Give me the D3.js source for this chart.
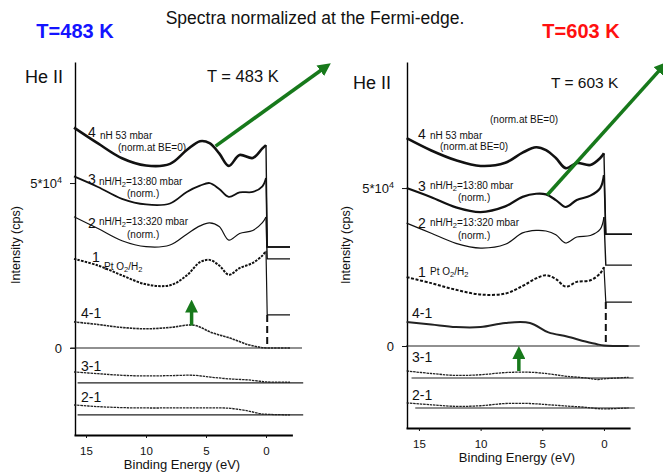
<!DOCTYPE html>
<html>
<head>
<meta charset="utf-8">
<script src="https://cdn.jsdelivr.net/npm/d3@7"></script>
<style>
  body { margin: 0; background: #fff; }
  svg text { font-family: Arial, "Liberation Sans", Helvetica, sans-serif; fill: #111; }
</style>
</head>
<body>
<svg id="chart" width="663" height="475"></svg>
<script>
// binding energy grids (eV)
const beMain = [16, 14, 12, 10, 8, 6.6, 5.5, 4.7, 3.9, 3.1, 2.2, 1.1, 0.3, 0];
const beDiff = [16, 14, 12, 10, 8, 6, 4.5, 3, 1.5, 0.5, 0, -2];
const beTail483 = [-0.1, -2.0];
const beTail603 = [-0.15, -2.27];
const xTicks = [15, 10, 5, 0];
const yTicks = [0, 5];

// T = 483 K spectra, intensity in units of 10^4 cps
const s483_4 = [6.68, 6.20, 5.75, 5.53, 5.58, 6.00, 6.27, 6.21, 5.90, 5.52, 5.85, 5.76, 6.05, 6.15];
const s483_3 = [5.20, 4.88, 4.52, 4.35, 4.38, 4.73, 4.92, 5.00, 4.82, 4.58, 4.72, 4.73, 4.90, 5.15];
const s483_2 = [3.98, 3.62, 3.25, 3.07, 3.12, 3.45, 3.70, 3.79, 3.68, 3.27, 3.47, 3.56, 3.80, 3.97];
const s483_1 = [2.70, 2.50, 2.20, 1.93, 1.90, 2.20, 2.60, 2.67, 2.50, 2.22, 2.42, 2.58, 2.80, 2.94];
const tail483 = [3.06, 3.06, 2.70, 1.00];
// difference spectra (relative to their own zero line)
const d483_41 = [0.79, 0.71, 0.62, 0.58, 0.62, 0.69, 0.46, 0.30, 0.10, 0.02, 0, 0];
const d483_31 = [0.33, 0.28, 0.23, 0.21, 0.22, 0.23, 0.17, 0.12, 0.09, 0.05, 0.03, 0.02];
const d483_21 = [0.30, 0.25, 0.22, 0.21, 0.21, 0.21, 0.21, 0.20, 0.12, 0.04, 0.02, 0];
const zero483 = [0, -1.06, -2.03];

// T = 603 K spectra
const s603_4 = [6.58, 6.19, 5.88, 5.70, 5.80, 6.12, 6.29, 6.20, 5.95, 5.63, 5.79, 5.73, 5.95, 6.10];
const s603_3 = [5.00, 4.71, 4.39, 4.24, 4.42, 4.72, 4.82, 4.80, 4.62, 4.40, 4.62, 4.76, 5.00, 5.41];
const s603_2 = [3.89, 3.57, 3.25, 3.10, 3.22, 3.58, 3.66, 3.64, 3.52, 3.26, 3.45, 3.50, 3.70, 4.08];
const s603_1 = [2.18, 1.99, 1.78, 1.63, 1.66, 1.90, 2.14, 2.24, 2.12, 1.88, 2.03, 2.08, 2.30, 2.50];
const tail603 = [3.54, 3.54, 2.56, 1.39];
const d603_41 = [0.76, 0.68, 0.60, 0.60, 0.73, 0.73, 0.43, 0.30, 0.14, 0.05, 0.02, 0];
const d603_31 = [0.22, 0.14, 0.08, 0.10, 0.17, 0.18, 0.13, 0.05, 0.00, -0.05, -0.03, 0.02];
const d603_21 = [0.16, 0.10, 0.05, 0.07, 0.14, 0.14, 0.10, 0.06, 0.02, -0.02, -0.03, 0];
const zero603 = [0, -1.01, -1.96];

const green = '#17791b';
const svg = d3.select('#chart');

// header
svg.append('text').attr('x', 315).attr('y', 24).attr('text-anchor', 'middle')
    .attr('font-size', 17.5).text('Spectra normalized at the Fermi-edge.');
svg.append('text').attr('x', 75).attr('y', 38).attr('text-anchor', 'middle')
    .attr('font-size', 20).attr('font-weight', 'bold').style('fill', '#1414ff').text('T=483 K');
svg.append('text').attr('x', 581).attr('y', 38).attr('text-anchor', 'middle')
    .attr('font-size', 20).attr('font-weight', 'bold').style('fill', '#ff1010').text('T=603 K');

// arrow head
svg.append('defs').append('marker')
    .attr('id', 'head').attr('markerUnits', 'userSpaceOnUse')
    .attr('viewBox', '0 0 10 10').attr('refX', 2).attr('refY', 5)
    .attr('markerWidth', 13).attr('markerHeight', 13).attr('orient', 'auto')
    .append('path').attr('d', 'M0,0L10,5L0,10Z').attr('fill', green);

// text with _n subscripts
function label(g, x, y, size, str) {
    const t = g.append('text').attr('x', x).attr('y', y).attr('font-size', size);
    str.split(/_(\d)/).forEach((part, i) => {
        if (!part) return;
        if (i % 2) {
            t.append('tspan').attr('baseline-shift', '-25%').attr('font-size', size * 0.75).text(part);
        } else {
            t.append('tspan').text(part);
        }
    });
}

function drawPanel(p) {
    const g = svg.append('g');
    const x = d3.scaleLinear().domain(p.xDom).range(p.xRange);
    const y = d3.scaleLinear().domain(p.yDom).range(p.yRange);

    // axes
    const xa = g.append('g').attr('transform', `translate(0,${p.yRange[0]})`)
        .call(d3.axisBottom(x).tickValues(xTicks).tickSize(3).tickSizeOuter(0).tickPadding(9));
    xa.select('.domain').attr('stroke-width', 1.8);
    xa.selectAll('.tick text').attr('font-size', 11.5);

    const ya = g.append('g').attr('transform', `translate(${p.xRange[0] + 1},0)`)
        .call(d3.axisLeft(y).tickValues(yTicks).tickSize(5).tickSizeOuter(0).tickPadding(8));
    ya.select('.domain').attr('stroke-width', 1.4);
    ya.selectAll('.tick text').attr('font-size', 13);
    ya.selectAll('.tick text').filter(d => d === 5).each(function () {
        const t = d3.select(this).text('5*10');
        t.append('tspan').attr('dy', '-0.5em').attr('font-size', 9).text('4');
    });
    g.selectAll('.tick line').attr('stroke', '#111');

    g.append('text').attr('transform', `translate(${p.yLabelX},245) rotate(-90)`)
        .attr('text-anchor', 'middle').attr('font-size', 12.5).text('Intensity (cps)');
    g.append('text').attr('x', p.xLabelX).attr('y', p.yRange[0] + 34)
        .attr('text-anchor', 'middle').attr('font-size', 13).text('Binding Energy (eV)');

    // zero lines for the difference spectra
    p.zeros.forEach((z, i) => {
        g.append('line')
            .attr('x1', x(p.zeroExt[i][0])).attr('x2', x(p.zeroExt[i][1]))
            .attr('y1', y(z)).attr('y2', y(z))
            .attr('stroke', '#222').attr('stroke-width', 1.1);
    });

    // normalized spectra
    const line = d3.line().x(d => x(d[0])).y(d => y(d[1])).curve(d3.curveCatmullRom.alpha(0.5));
    const lin = d3.line().x(d => x(d[0])).y(d => y(d[1]));
    p.spectra.forEach((s, i) => {
        const pts = beMain.map((b, j) => [b, s.v[j]]);
        g.append('path').attr('d', line(pts)).attr('fill', 'none')
            .attr('stroke', '#111').attr('stroke-width', s.w)
            .attr('stroke-dasharray', s.dash || null);
        const edge = [[0, s.v[s.v.length - 1]], [p.beTail[0], p.tails[i]], [p.beTail[1], p.tails[i]]];
        g.append('path').attr('d', lin(edge)).attr('fill', 'none')
            .attr('stroke', '#111').attr('stroke-width', i === 3 ? 1.2 : 1.4);
    });

    // Fermi level marker
    g.append('line')
        .attr('x1', x(p.beTail[0])).attr('x2', x(p.beTail[0]))
        .attr('y1', y(p.tails[3])).attr('y2', y(0))
        .attr('stroke', '#111').attr('stroke-width', 2).attr('stroke-dasharray', '7,4');

    // difference spectra
    p.diffs.forEach((s, i) => {
        const pts = beDiff.map((b, j) => [b, p.zeros[i] + s.v[j]]);
        g.append('path').attr('d', line(pts)).attr('fill', 'none')
            .attr('stroke', '#222').attr('stroke-width', s.w)
            .attr('stroke-dasharray', s.dash || null);
    });

    // labels
    p.labels.forEach(l => label(g, l[0], l[1], l[2], l[3]));

    // green arrows
    p.arrows.forEach(a => {
        g.append('line')
            .attr('x1', x(a[0])).attr('y1', y(a[1]))
            .attr('x2', x(a[2])).attr('y2', y(a[3]))
            .attr('stroke', green).attr('stroke-width', a[4])
            .attr('marker-end', 'url(#head)');
    });
}

drawPanel({
    xDom: [16, -2.2], xRange: [74, 292.4],
    yDom: [-2.64, 8.67], yRange: [435, 62],
    yLabelX: 20, xLabelX: 182,
    beTail: beTail483, tails: tail483, zeros: zero483,
    zeroExt: [[16.3, -3], [15.7, -3.1], [15.7, -3.1]],
    spectra: [
        { v: s483_4, w: 2.6 },
        { v: s483_3, w: 1.8 },
        { v: s483_2, w: 1.2 },
        { v: s483_1, w: 2.0, dash: '2.5,1.2' }
    ],
    diffs: [
        { v: d483_41, w: 1.6, dash: '2.5,0.8' },
        { v: d483_31, w: 1.3, dash: '2.5,0.8' },
        { v: d483_21, w: 1.3, dash: '2.5,0.8' }
    ],
    labels: [
        [25, 83, 18, 'He II'], [207, 82, 16.5, 'T = 483 K'],
        [88, 137, 14, '4'], [100, 139, 10, 'nH 53 mbar'], [118, 151, 10, '(norm.at BE=0)'],
        [88, 184, 14, '3'], [99, 185, 10, 'nH/H_2=13:80 mbar'], [127, 197, 10, '(norm.)'],
        [88, 228, 14, '2'], [99, 225, 10, 'nH/H_2=13:320 mbar'], [127, 238, 10, '(norm.)'],
        [92, 262, 14, '1'], [104, 270, 10, 'Pt O_2/H_2'],
        [81, 318, 14, '4-1'], [81, 371, 14, '3-1'], [81, 402, 14, '2-1']
    ],
    arrows: [
        [4.2, 6.12, -4.7, 8.45, 3.5],
        [6.2, 0.68, 6.2, 1.15, 3.5]
    ]
});

drawPanel({
    xDom: [16.05, -2.12], xRange: [406, 630.1],
    yDom: [-2.595, 8.99], yRange: [428, 62],
    yLabelX: 350, xLabelX: 517,
    beTail: beTail603, tails: tail603, zeros: zero603,
    zeroExt: [[16.05, -2.9], [15.6, -2.4], [15.3, -2.5]],
    spectra: [
        { v: s603_4, w: 2.6 },
        { v: s603_3, w: 2.2 },
        { v: s603_2, w: 1.2 },
        { v: s603_1, w: 2.0, dash: '3,1.6' }
    ],
    diffs: [
        { v: d603_41, w: 2.0 },
        { v: d603_31, w: 1.3, dash: '2.5,0.8' },
        { v: d603_21, w: 1.3, dash: '2.5,0.8' }
    ],
    labels: [
        [353, 89, 18, 'He II'], [551, 88, 15.5, 'T = 603 K'],
        [490, 123, 10, '(norm.at BE=0)'],
        [418, 139, 14, '4'], [430, 139, 10, 'nH 53 mbar'], [440, 150, 10, '(norm.at BE=0)'],
        [418, 191, 14, '3'], [430, 189, 10, 'nH/H_2=13:80 mbar'], [458, 201, 10, '(norm.)'],
        [418, 228, 14, '2'], [430, 226, 10, 'nH/H_2=13:320 mbar'], [458, 239, 10, '(norm.)'],
        [418, 277, 14, '1'], [430, 275, 10, 'Pt O_2/H_2'],
        [412, 318, 14, '4-1'], [412, 362, 14, '3-1'], [412, 400, 14, '2-1']
    ],
    arrows: [
        [4.6, 4.78, -4.55, 8.75, 3.5],
        [6.9, -0.79, 6.9, -0.33, 3.5]
    ]
});
</script>
</body>
</html>
